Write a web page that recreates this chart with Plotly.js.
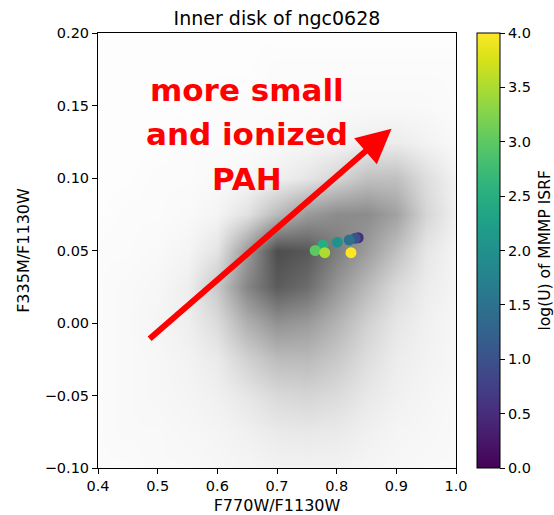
<!DOCTYPE html>
<html>
<head>
<meta charset="utf-8">
<script src="https://cdn.plot.ly/plotly-3.0.1.min.js"></script>
<style>
  html, body { margin: 0; padding: 0; background: #ffffff; }
  #chart { width: 554px; height: 515px; }
</style>
</head>
<body>
<div id="chart"></div>
<script>
// ---- density background (estimated darkness of the grey cloud, 0..1) ----
const gridX = [0.40, 0.45, 0.50, 0.55, 0.60, 0.65, 0.70, 0.75, 0.80, 0.85, 0.90, 0.95, 1.00];
const gridY = [-0.100, -0.075, -0.050, -0.025, 0.000, 0.025, 0.050, 0.075, 0.100, 0.125, 0.150, 0.175, 0.200];
const density = [
  [0.02,0.02,0.03,0.03,0.04,0.05,0.06,0.06,0.06,0.05,0.04,0.03,0.03],
  [0.02,0.03,0.03,0.04,0.05,0.07,0.10,0.11,0.10,0.07,0.05,0.04,0.03],
  [0.02,0.03,0.04,0.05,0.07,0.12,0.18,0.20,0.17,0.11,0.07,0.05,0.03],
  [0.02,0.03,0.04,0.06,0.10,0.22,0.32,0.33,0.26,0.16,0.09,0.06,0.04],
  [0.02,0.03,0.05,0.08,0.17,0.38,0.52,0.48,0.36,0.22,0.12,0.07,0.04],
  [0.02,0.03,0.04,0.08,0.26,0.58,0.78,0.70,0.50,0.33,0.18,0.09,0.05],
  [0.02,0.02,0.03,0.05,0.13,0.48,0.85,0.80,0.62,0.47,0.30,0.12,0.05],
  [0.01,0.02,0.02,0.03,0.05,0.14,0.33,0.48,0.55,0.55,0.45,0.20,0.07],
  [0.01,0.01,0.02,0.02,0.03,0.04,0.07,0.12,0.20,0.30,0.30,0.16,0.06],
  [0.01,0.01,0.01,0.02,0.02,0.02,0.03,0.04,0.05,0.08,0.09,0.06,0.03],
  [0.01,0.01,0.01,0.01,0.02,0.02,0.02,0.02,0.03,0.03,0.03,0.03,0.02],
  [0.01,0.01,0.01,0.01,0.01,0.01,0.02,0.02,0.02,0.02,0.02,0.02,0.02],
  [0.01,0.01,0.01,0.01,0.01,0.01,0.01,0.01,0.01,0.01,0.01,0.01,0.01]
];

// ---- model points coloured by log(U) ----
const modelX = [0.836, 0.831, 0.821, 0.801, 0.777, 0.764, 0.780, 0.824];
const modelY = [0.0588, 0.0584, 0.0572, 0.0557, 0.0538, 0.0500, 0.0485, 0.0485];
const logU   = [0.5, 1.0, 1.5, 2.0, 2.5, 3.0, 3.5, 4.0];
const cbTicks = [0.0, 0.5, 1.0, 1.5, 2.0, 2.5, 3.0, 3.5, 4.0];
const cbTitle = "log(U) of MMMP ISRF";

// ---- arrow and label ----
const arrowTail = [0.484, -0.0117];
const arrowHead = [0.892, 0.134];
const labelLines = ["more small", "and ionized", "PAH"];
const labelX = [0.65, 0.65, 0.65];
const labelY = [0.1607, 0.1301, 0.0996];

const FONT = "DejaVu Sans, sans-serif";

const traces = [
  {
    type: "heatmap",
    x: gridX, y: gridY, z: density,
    zsmooth: "best",
    zmin: 0, zmax: 1,
    colorscale: [[0, "#ffffff"], [1, "#2e2e2e"]],
    showscale: false,
    hoverinfo: "skip"
  },
  {
    type: "scatter",
    mode: "markers",
    x: modelX, y: modelY,
    marker: {
      size: 11,
      color: logU,
      colorscale: "Viridis",
      cmin: 0, cmax: 4,
      line: { width: 0 },
      showscale: true,
      colorbar: {
        xref: "paper", x: (477 - 98) / 358, xanchor: "left",
        yref: "paper", y: 0.5, yanchor: "middle",
        len: 1, lenmode: "fraction",
        thickness: 23, thicknessmode: "pixels",
        xpad: 0, ypad: 0,
        outlinewidth: 1, outlinecolor: "#000000",
        tickmode: "array", tickvals: cbTicks,
        ticktext: cbTicks.map(v => v.toFixed(1)),
        ticks: "outside", ticklen: 5, tickwidth: 1, tickcolor: "#000000",
        tickfont: { family: FONT, size: 14.5, color: "#000000" }
      }
    },
    showlegend: false
  }
];

const annotations = [
  {
    x: arrowHead[0], y: arrowHead[1], xref: "x", yref: "y",
    ax: arrowTail[0], ay: arrowTail[1], axref: "x", ayref: "y",
    text: "", showarrow: true,
    arrowcolor: "#ff0000", arrowwidth: 6, arrowhead: 2, arrowsize: 1.15,
    standoff: 0, startstandoff: 0
  },
  {
    x: (544 - 98) / 358, y: 0.5, xref: "paper", yref: "paper",
    text: cbTitle, showarrow: false, textangle: -90,
    xanchor: "center", yanchor: "middle", borderpad: 0,
    font: { family: FONT, size: 15.5, color: "#000000" }
  }
];
labelLines.forEach((t, i) => {
  annotations.push({
    x: labelX[i], y: labelY[i], xref: "x", yref: "y",
    text: t, showarrow: false,
    xanchor: "center", yanchor: "middle",
    font: { family: FONT, size: 31, color: "#ff0000", weight: "bold" }
  });
});

const layout = {
  width: 554, height: 515,
  margin: { l: 98, r: 98, t: 33, b: 47, pad: 0 },
  paper_bgcolor: "#ffffff", plot_bgcolor: "#ffffff",
  font: { family: FONT, size: 14.5, color: "#000000" },
  title: {
    text: "Inner disk of ngc0628",
    x: 0.5, xref: "paper", xanchor: "center",
    y: 1 - 18 / 515, yref: "container", yanchor: "middle",
    font: { family: FONT, size: 19, color: "#000000" }
  },
  xaxis: {
    range: [0.4, 1.0], tick0: 0.4, dtick: 0.1, tickformat: ".1f",
    showgrid: false, zeroline: false,
    showline: true, mirror: true, linecolor: "#000000", linewidth: 1,
    ticks: "outside", ticklen: 5, tickcolor: "#000000",
    tickfont: { family: FONT, size: 14.5 },
    title: { text: "F770W/F1130W", standoff: 8, font: { family: FONT, size: 16 } },
    automargin: false
  },
  yaxis: {
    range: [-0.1, 0.2], tick0: -0.1, dtick: 0.05, tickformat: ".2f",
    showgrid: false, zeroline: false,
    showline: true, mirror: true, linecolor: "#000000", linewidth: 1,
    ticks: "outside", ticklen: 5, tickcolor: "#000000",
    tickfont: { family: FONT, size: 14.5 },
    title: { text: "F335M/F1130W", standoff: 11, font: { family: FONT, size: 16 } },
    automargin: false
  },
  annotations: annotations,
  showlegend: false
};

Plotly.newPlot("chart", traces, layout, { displayModeBar: false, staticPlot: true });
</script>
</body>
</html>
